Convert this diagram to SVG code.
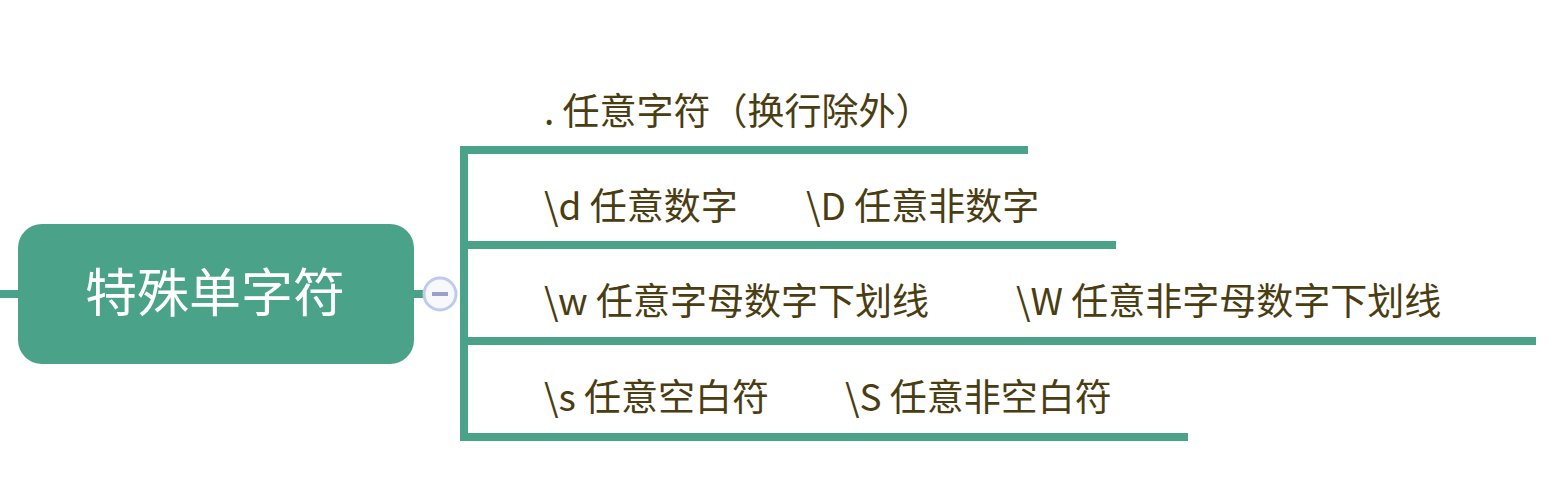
<svg xmlns="http://www.w3.org/2000/svg" width="1556" height="504" viewBox="0 0 1556 504">
<style>
.c{stroke:#4aa288;stroke-width:8;fill:none}
.t{font-family:"Noto Sans CJK SC","Noto Sans",sans-serif;font-size:37px;fill:#4a3d12}
</style>
<rect width="1556" height="504" fill="#fff"/>
<g id="connectors">
<line class="c" x1="0" y1="294" x2="20" y2="294"/>
<line class="c" x1="412" y1="294" x2="426" y2="294"/>
<path class="c" d="M1028 150 H464 V437 H1188"/>
<line class="c" x1="464" y1="245" x2="1116" y2="245"/>
<line class="c" x1="464" y1="341" x2="1536" y2="341"/>
</g>
<g id="root">
<rect x="18" y="224" width="396" height="140" rx="24" fill="#4aa288"/>
<text x="215" y="312" text-anchor="middle" font-family="Noto Sans CJK SC,sans-serif" font-size="52" fill="#fff">特殊单字符</text>
</g>
<g id="toggle">
<circle cx="440" cy="294" r="16" fill="#f8f8fa" stroke="#bccbee" stroke-width="3"/>
<line x1="432" y1="294" x2="448" y2="294" stroke="#9aa0c8" stroke-width="4"/>
</g>
<g id="n1"><text class="t" x="544" y="125">. 任意字符（换行除外）</text></g>
<g id="n2"><text class="t" x="544" y="220">\d 任意数字<tspan x="806">\D 任意非数字</tspan></text></g>
<g id="n3"><text class="t" x="544" y="315">\w 任意字母数字下划线<tspan x="1016">\W 任意非字母数字下划线</tspan></text></g>
<g id="n4"><text class="t" x="544" y="411">\s 任意空白符<tspan x="845">\S 任意非空白符</tspan></text></g>
</svg>
